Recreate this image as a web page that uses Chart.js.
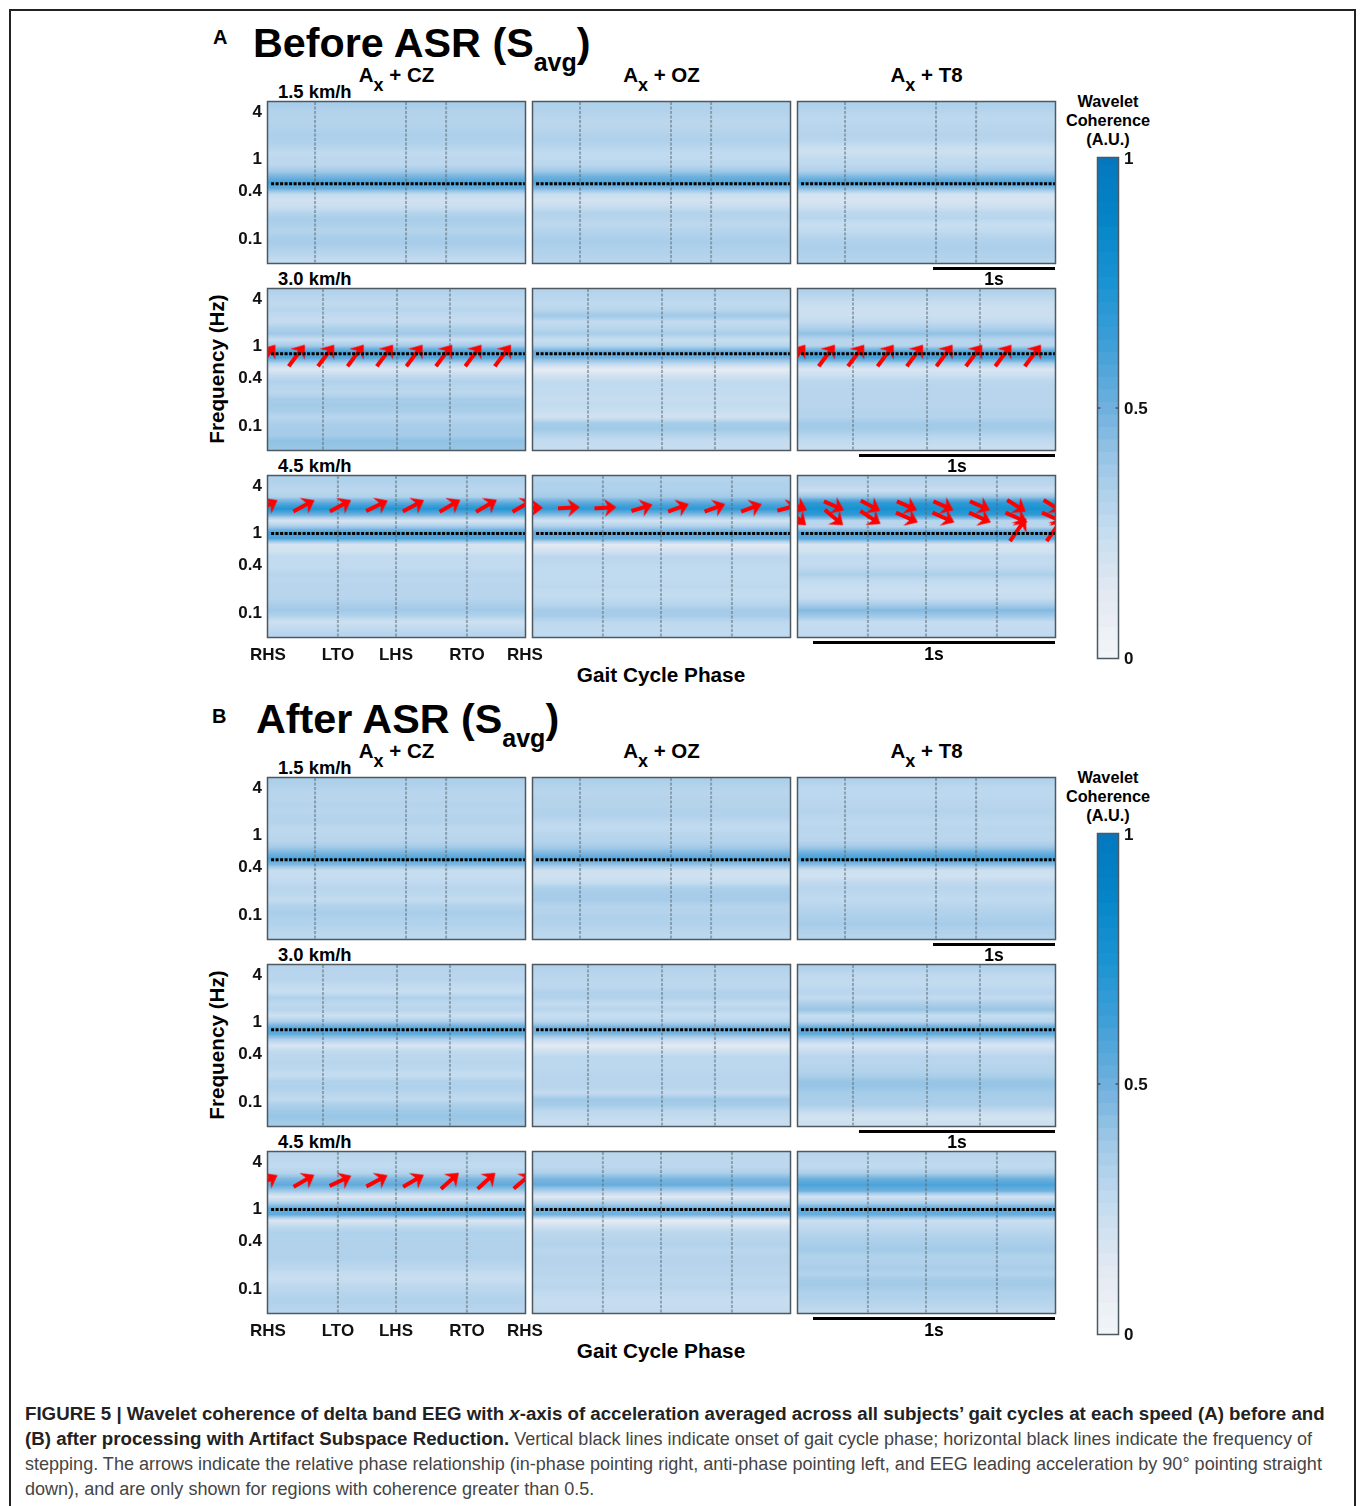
<!DOCTYPE html>
<html>
<head>
<meta charset="utf-8">
<title>Figure 5</title>
<script src="https://cdn.jsdelivr.net/npm/chart.js@4"></script>
<style>
html, body { margin: 0; padding: 0; background: #fff; }
#page { position: relative; width: 1360px; height: 1506px; overflow: hidden; font-family: "Liberation Sans", Arial, sans-serif; color: #000; }
#box { position: absolute; left: 9px; top: 9px; width: 1343px; height: 1510px; border: 2px solid #222; }
canvas { position: absolute; }
.t { position: absolute; white-space: nowrap; font-weight: bold; transform: translate(-50%, -50%); line-height: 1; }
.l { position: absolute; white-space: nowrap; font-weight: bold; line-height: 1; }
.s { position: relative; }
.bar { position: absolute; background: #000; height: 3px; }
.cap { position: absolute; left: 25px; white-space: nowrap; font-size: 18.05px; line-height: 1; color: #444; }
.cap b { color: #222; font-size: 18.7px; }
</style>
</head>
<body>
<div id="page"><div id="box"></div></div>
<script>
// frequency of each row of a panel (Hz), top to bottom
const rowFreqs = [4.63, 3.89, 3.27, 2.75, 2.31, 1.945, 1.636, 1.375, 1.156, 0.972, 0.818, 0.688, 0.578, 0.486, 0.409, 0.344, 0.289, 0.243, 0.204, 0.172, 0.145, 0.122, 0.102, 0.086, 0.072, 0.061, 0.051];
const freqTicks = [4, 1, 0.4, 0.1];
const gaitLabels = ['RHS', 'LTO', 'LHS', 'RTO', 'RHS'];
const speedLabels = ['1.5 km/h', '3.0 km/h', '4.5 km/h'];
const pairLabels = ['CZ', 'OZ', 'T8'];

// gait events as fraction of the cycle, one list per speed
const phases15 = [0, 0.183, 0.537, 0.693, 1];
const phases30 = [0, 0.214, 0.502, 0.708, 1];
const phases45 = [0, 0.272, 0.498, 0.774, 1];
const stepFreqs = [0.47, 0.77, 0.95];

// coherence per row, before ASR
const beforeCz15 = [.35,.32,.31,.31,.32,.34,.33,.31,.27,.28,.28,.36,.48,.60,.52,.26,.21,.23,.30,.35,.34,.31,.34,.36,.33,.30,.26];
const beforeOz15 = [.33,.32,.30,.29,.30,.32,.33,.30,.27,.27,.29,.37,.50,.58,.46,.24,.20,.24,.31,.31,.28,.31,.33,.35,.33,.32,.30];
const beforeT815 = [.33,.31,.28,.29,.30,.31,.30,.24,.22,.27,.28,.32,.46,.59,.44,.19,.18,.22,.28,.30,.24,.26,.30,.33,.34,.33,.31];
const beforeCz30 = [.32,.29,.27,.30,.27,.25,.33,.38,.24,.36,.60,.58,.30,.16,.26,.32,.30,.29,.36,.37,.35,.30,.34,.36,.36,.42,.40];
const beforeOz30 = [.31,.29,.27,.30,.38,.26,.29,.35,.24,.30,.52,.50,.28,.11,.20,.27,.27,.26,.25,.26,.24,.20,.36,.38,.31,.26,.25];
const beforeT830 = [.32,.28,.24,.23,.23,.26,.33,.42,.30,.30,.58,.62,.34,.17,.23,.29,.30,.30,.30,.30,.31,.31,.37,.37,.31,.27,.24];
const beforeCz45 = [.33,.31,.29,.33,.55,.72,.50,.18,.36,.60,.58,.18,.20,.27,.26,.27,.30,.29,.30,.30,.30,.34,.38,.32,.22,.26,.30];
const beforeOz45 = [.31,.33,.33,.37,.55,.68,.45,.20,.34,.54,.52,.13,.20,.28,.28,.27,.27,.27,.28,.26,.27,.30,.36,.36,.28,.27,.27];
const beforeT845 = [.31,.28,.24,.40,.68,.76,.68,.30,.30,.58,.56,.18,.20,.27,.26,.28,.34,.27,.24,.23,.25,.34,.45,.38,.25,.26,.27];

// coherence per row, after ASR
const afterCz15 = [.34,.32,.30,.30,.31,.30,.31,.31,.28,.29,.30,.36,.47,.58,.46,.25,.25,.27,.30,.28,.26,.32,.35,.33,.32,.30,.28];
const afterOz15 = [.34,.31,.30,.31,.31,.32,.32,.28,.27,.30,.31,.36,.45,.56,.42,.22,.21,.25,.34,.36,.36,.31,.31,.33,.32,.30,.28];
const afterT815 = [.32,.29,.28,.29,.30,.31,.30,.28,.30,.29,.30,.37,.50,.62,.44,.22,.21,.27,.30,.28,.27,.30,.32,.34,.36,.33,.31];
const afterCz30 = [.31,.30,.30,.26,.24,.33,.28,.30,.22,.34,.55,.55,.33,.18,.27,.29,.30,.28,.25,.32,.33,.30,.27,.34,.38,.40,.37];
const afterOz30 = [.32,.30,.29,.28,.32,.32,.26,.30,.24,.30,.50,.48,.26,.13,.22,.29,.28,.29,.30,.30,.30,.26,.38,.36,.28,.26,.24];
const afterT830 = [.33,.28,.26,.27,.30,.26,.34,.40,.25,.30,.54,.55,.32,.17,.25,.30,.30,.31,.34,.40,.40,.36,.35,.34,.26,.20,.22];
const afterCz45 = [.30,.28,.27,.31,.46,.54,.38,.16,.33,.55,.53,.17,.27,.33,.32,.32,.32,.33,.31,.29,.25,.24,.28,.30,.32,.32,.30];
const afterOz45 = [.29,.28,.28,.34,.47,.52,.34,.14,.31,.50,.49,.11,.22,.29,.30,.32,.29,.31,.31,.30,.30,.28,.30,.27,.25,.25,.26];
const afterT845 = [.30,.28,.27,.34,.50,.60,.50,.20,.33,.55,.52,.24,.27,.30,.33,.35,.37,.32,.33,.35,.31,.37,.37,.33,.32,.30,.27];

// phase arrows: cycle position, frequency and direction (degrees clockwise from right)
const arrowPos30 = [-0.003, 0.112, 0.226, 0.341, 0.455, 0.570, 0.685, 0.799, 0.914];
const arrowAngle30 = [-53, -53, -53, -53, -53, -53, -53, -53, -53];
const arrowPos45 = [-0.004, 0.14, 0.282, 0.424, 0.566, 0.708, 0.85, 0.992];
const arrowAngleCz45 = [-28, -28, -28, -26, -28, -30, -30, -30];
const arrowAngleOz45 = [0, -3, -3, -17, -20, -20, -20, -15];
const arrowAngleT8a45 = [24, 24, 28, 24, 24, 24, 32, 32];
const arrowAngleT8b45 = [40, 40, 33, 24, 24, 24, 24, 24];
const arrowPosT8c45 = [0.856, 0.999];
const arrowAngleT8c45 = [-55, -55];
const arrowAngleAfter45 = [-28, -30, -25, -28, -30, -42, -42, -40];

const colorbarLevels = [0,.025,.05,.075,.1,.125,.15,.175,.2,.225,.25,.275,.3,.325,.35,.375,.4,.425,.45,.475,.5,.525,.55,.575,.6,.625,.65,.675,.7,.725,.75,.775,.8,.825,.85,.875,.9,.925,.95,.975,1];
const colorbarTicks = [0, 0.5, 1];

// colormap stops
const cmap = [[242,245,248],[228,234,242],[198,221,240],[162,202,232],[111,176,222],[63,160,216],[26,147,210],[5,133,200],[4,119,190]];

function coherenceColor(v) {
    const p = Math.min(Math.max(v, 0), 1) * (cmap.length - 1);
    const i = Math.min(Math.floor(p), cmap.length - 2);
    const f = p - i;
    const c = cmap[i].map((a, k) => Math.round(a + (cmap[i + 1][k] - a) * f));
    return `rgb(${c[0]},${c[1]},${c[2]})`;
}

// small quiver arrow pointing right, the chart rotates it
function makeArrow(len) {
    const c = document.createElement('canvas');
    c.width = len + 4;
    c.height = 24;
    const g = c.getContext('2d');
    g.translate(c.width / 2, 12);
    g.strokeStyle = g.fillStyle = '#ff0000';
    g.lineWidth = 4;
    g.beginPath();
    g.moveTo(-len / 2, 0);
    g.lineTo(len / 2 - 4, 0);
    g.stroke();
    g.beginPath();
    g.moveTo(len / 2, 0);
    g.lineTo(len / 2 - 12, -9);
    g.lineTo(len / 2 - 8, 0);
    g.lineTo(len / 2 - 12, 9);
    g.closePath();
    g.fill();
    return c;
}

const framePlugin = {
    id: 'panelFrame',
    afterDatasetsDraw(chart) {
        const a = chart.chartArea;
        const g = chart.ctx;
        g.save();
        g.strokeStyle = '#4d5860';
        g.lineWidth = 1.5;
        g.strokeRect(a.left - 0.5, a.top - 0.5, a.right - a.left + 1, a.bottom - a.top + 1);
        g.restore();
    }
};

const page = document.getElementById('page');

function addCanvas(x, y, w, h) {
    const c = document.createElement('canvas');
    c.width = w;
    c.height = h;
    c.style.left = x + 'px';
    c.style.top = y + 'px';
    c.style.width = w + 'px';
    c.style.height = h + 'px';
    page.appendChild(c);
    return c;
}

function noPadding(scale) {
    scale.paddingLeft = scale.paddingRight = scale.paddingTop = scale.paddingBottom = 0;
}

const tickFont = { family: '"Liberation Sans"', size: 17, weight: 'bold' };
const panelW = 257;
const panelH = 161;

function drawPanel(o) {
    const leftAxis = o.showFreq ? 38 : 0;
    const bottomAxis = o.showGait ? 30 : 0;
    const padLeft = o.showFreq ? 0 : 2;
    const padRight = o.showGait ? 22 : 2;
    const padBottom = o.showGait ? 0 : 2;
    const canvas = addCanvas(o.x - leftAxis - padLeft, o.y - 2,
        panelW + leftAxis + padLeft + padRight, panelH + 2 + bottomAxis + padBottom);

    // each row fades into its neighbours
    const rowColor = (ctx) => {
        const i = ctx.dataIndex;
        const vals = o.values;
        if (i === undefined) return coherenceColor(vals[0]);
        const mid = ctx.chart.scales.y.getPixelForValue(rowFreqs[i]);
        if (!Number.isFinite(mid)) return coherenceColor(vals[i]);
        const grad = ctx.chart.ctx.createLinearGradient(0, mid - 3, 0, mid + 3);
        const before = i > 0 ? (vals[i - 1] + vals[i]) / 2 : vals[i];
        const after = i < vals.length - 1 ? (vals[i] + vals[i + 1]) / 2 : vals[i];
        grad.addColorStop(0, coherenceColor(before));
        grad.addColorStop(0.5, coherenceColor(vals[i]));
        grad.addColorStop(1, coherenceColor(after));
        return grad;
    };

    const datasets = [{
        type: 'bar',
        indexAxis: 'y',
        data: rowFreqs.map(f => ({ y: f, x: [0, 1] })),
        backgroundColor: rowColor,
        borderWidth: 0,
        barThickness: 7,
        inflateAmount: 0,
        order: 3
    }];

    o.phases.slice(1, 4).forEach(p => {
        datasets.push({
            type: 'scatter',
            showLine: true,
            data: [{ x: p, y: 5.04 }, { x: p, y: 0.047 }],
            borderColor: 'rgba(90,105,115,0.5)',
            borderWidth: 2,
            borderDash: [3, 1.5],
            pointRadius: 0,
            order: 2
        });
    });

    (o.arrows || []).forEach(a => {
        datasets.push({
            type: 'scatter',
            data: a.pos.map(p => ({ x: p, y: a.freq })),
            pointStyle: makeArrow(a.len),
            pointRadius: 16,
            rotation: a.angle,
            order: 1
        });
    });

    datasets.push({
        type: 'scatter',
        showLine: true,
        data: [{ x: 0.012, y: o.step }, { x: 1, y: o.step }],
        borderColor: '#000',
        borderWidth: 3,
        borderDash: [3, 1.5],
        pointRadius: 0,
        order: 0
    });

    new Chart(canvas, {
        type: 'scatter',
        data: { datasets },
        options: {
            responsive: false,
            animation: false,
            devicePixelRatio: 1,
            layout: { autoPadding: false, padding: { top: 2, left: padLeft, right: padRight, bottom: padBottom } },
            plugins: { legend: { display: false }, tooltip: { enabled: false } },
            scales: {
                x: {
                    type: 'linear',
                    min: 0,
                    max: 1,
                    offset: false,
                    display: o.showGait,
                    grid: { display: false, drawTicks: false },
                    border: { display: false },
                    afterBuildTicks: s => { s.ticks = o.phases.map(v => ({ value: v })); },
                    afterFit: s => { noPadding(s); s.height = bottomAxis; },
                    ticks: {
                        autoSkip: false,
                        maxRotation: 0,
                        padding: 8,
                        color: '#111',
                        font: tickFont,
                        callback: (v, i) => gaitLabels[i]
                    }
                },
                y: {
                    type: 'logarithmic',
                    min: 0.0468,
                    max: 5.04,
                    offset: false,
                    bounds: 'data',
                    display: o.showFreq,
                    grid: { display: false, drawTicks: false },
                    border: { display: false },
                    afterBuildTicks: s => { s.ticks = freqTicks.map(v => ({ value: v })); },
                    afterFit: s => { noPadding(s); s.width = leftAxis; },
                    ticks: {
                        autoSkip: false,
                        padding: 6,
                        labelOffset: 2,
                        color: '#111',
                        font: tickFont,
                        callback: v => String(v)
                    }
                }
            }
        },
        plugins: [framePlugin]
    });
}

function drawColorbar(y) {
    const canvas = addCanvas(1096, y - 12, 62, 524);
    new Chart(canvas, {
        type: 'scatter',
        data: {
            datasets: [{
                type: 'bar',
                indexAxis: 'y',
                data: colorbarLevels.map(v => ({ y: v, x: [0, 1] })),
                backgroundColor: colorbarLevels.map(coherenceColor),
                borderWidth: 0,
                barThickness: 13,
                inflateAmount: 0,
                order: 2
            }, {
                type: 'scatter',
                showLine: true,
                data: [{ x: 0, y: 0.5 }, { x: 0.12, y: 0.5 }],
                borderColor: '#222',
                borderWidth: 1,
                pointRadius: 0,
                order: 1
            }, {
                type: 'scatter',
                showLine: true,
                data: [{ x: 0.88, y: 0.5 }, { x: 1, y: 0.5 }],
                borderColor: '#222',
                borderWidth: 1,
                pointRadius: 0,
                order: 0
            }]
        },
        options: {
            responsive: false,
            animation: false,
            devicePixelRatio: 1,
            layout: { autoPadding: false, padding: { top: 12, bottom: 12, left: 2 } },
            plugins: { legend: { display: false }, tooltip: { enabled: false } },
            scales: {
                x: { type: 'linear', min: 0, max: 1, display: false },
                y: {
                    type: 'linear',
                    position: 'right',
                    min: 0,
                    max: 1,
                    offset: false,
                    grid: { display: false, drawTicks: false },
                    border: { display: false },
                    afterBuildTicks: s => { s.ticks = colorbarTicks.map(v => ({ value: v })); },
                    afterFit: s => { noPadding(s); s.width = 40; },
                    ticks: {
                        padding: 6,
                        labelOffset: 1,
                        color: '#111',
                        font: { family: '"Liberation Sans"', size: 17, weight: 'bold' },
                        callback: v => String(v)
                    }
                }
            }
        },
        plugins: [framePlugin]
    });
}

// centred text
function text(html, x, y, size, extra) {
    const d = document.createElement('div');
    d.className = 't';
    d.innerHTML = html;
    d.style.left = x + 'px';
    d.style.top = y + 'px';
    d.style.fontSize = size + 'px';
    if (extra) d.style.transform = 'translate(-50%, -50%) ' + extra;
    page.appendChild(d);
}

function leftText(html, x, y, size) {
    const d = document.createElement('div');
    d.className = 'l';
    d.innerHTML = html;
    d.style.left = x + 'px';
    d.style.top = y + 'px';
    d.style.fontSize = size + 'px';
    page.appendChild(d);
}

function scaleBar(x1, x2, y) {
    const d = document.createElement('div');
    d.className = 'bar';
    d.style.left = x1 + 'px';
    d.style.width = (x2 - x1) + 'px';
    d.style.top = y + 'px';
    page.appendChild(d);
}

const colLeft = [268, 533, 798];
const allPhases = [phases15, phases30, phases45];

function drawFigure(offset, letter, letterX, letterY, title, titleX, values, arrowSets) {
    const rowTop = [102, 289, 476];
    leftText(letter, letterX, letterY, 20);
    leftText(`${title} (S<span class="s" style="font-size:25px;top:14px">avg</span>)`, titleX, offset + 23, 41.3);
    pairLabels.forEach((p, c) => {
        text(`A<span class="s" style="font-size:18px;top:9px">x</span> + ${p}`, colLeft[c] + 128.5, offset + 75, 20.5);
    });
    speedLabels.forEach((s, r) => leftText(s, 278, offset + rowTop[r] - 19, 18.4));

    for (let r = 0; r < 3; r++) {
        for (let c = 0; c < 3; c++) {
            drawPanel({
                x: colLeft[c],
                y: offset + rowTop[r],
                values: values[r][c],
                phases: allPhases[r],
                step: stepFreqs[r],
                arrows: arrowSets[r][c],
                showFreq: c === 0,
                showGait: c === 0 && r === 2
            });
        }
    }

    scaleBar(933, 1055, offset + 267);
    text('1s', 994, offset + 280, 17.5);
    scaleBar(859, 1055, offset + 454);
    text('1s', 957, offset + 467, 17.5);
    scaleBar(813, 1055, offset + 641);
    text('1s', 934, offset + 655, 17.5);

    text('Gait Cycle Phase', 661, offset + 675, 20.75);
    text('Frequency (Hz)', 217, offset + 369, 20.7, 'rotate(-90deg)');
    text('Wavelet', 1108, offset + 100.5, 16.3);
    text('Coherence', 1108, offset + 119.5, 16.3);
    text('(A.U.)', 1108, offset + 138.5, 16.3);
    drawColorbar(offset + 158);
}

drawFigure(0, 'A', 213, 27, 'Before ASR', 253,
    [[beforeCz15, beforeOz15, beforeT815], [beforeCz30, beforeOz30, beforeT830], [beforeCz45, beforeOz45, beforeT845]],
    [
        [null, null, null],
        [[{ pos: arrowPos30, freq: 0.73, angle: arrowAngle30, len: 27 }], null, [{ pos: arrowPos30, freq: 0.73, angle: arrowAngle30, len: 27 }]],
        [
            [{ pos: arrowPos45, freq: 2.12, angle: arrowAngleCz45, len: 24 }],
            [{ pos: arrowPos45, freq: 2.0, angle: arrowAngleOz45, len: 22 }],
            [
                { pos: arrowPos45, freq: 2.12, angle: arrowAngleT8a45, len: 22 },
                { pos: arrowPos45, freq: 1.51, angle: arrowAngleT8b45, len: 24 },
                { pos: arrowPosT8c45, freq: 1.06, angle: arrowAngleT8c45, len: 28 }
            ]
        ]
    ]);

drawFigure(676, 'B', 212, 706, 'After ASR', 256,
    [[afterCz15, afterOz15, afterT815], [afterCz30, afterOz30, afterT830], [afterCz45, afterOz45, afterT845]],
    [
        [null, null, null],
        [null, null, null],
        [[{ pos: arrowPos45, freq: 2.18, angle: arrowAngleAfter45, len: 24 }], null, null]
    ]);

// caption
const captionLines = [
    '<b>FIGURE 5 | Wavelet coherence of delta band EEG with <i>x</i>-axis of acceleration averaged across all subjects’ gait cycles at each speed (A) before and</b>',
    '<b>(B) after processing with Artifact Subspace Reduction.</b> Vertical black lines indicate onset of gait cycle phase; horizontal black lines indicate the frequency of',
    'stepping. The arrows indicate the relative phase relationship (in-phase pointing right, anti-phase pointing left, and EEG leading acceleration by 90° pointing straight',
    'down), and are only shown for regions with coherence greater than 0.5.'
];
captionLines.forEach((line, i) => {
    const d = document.createElement('div');
    d.className = 'cap';
    d.style.top = (1405 + i * 25) + 'px';
    d.innerHTML = line;
    page.appendChild(d);
});
</script>
</body>
</html>
